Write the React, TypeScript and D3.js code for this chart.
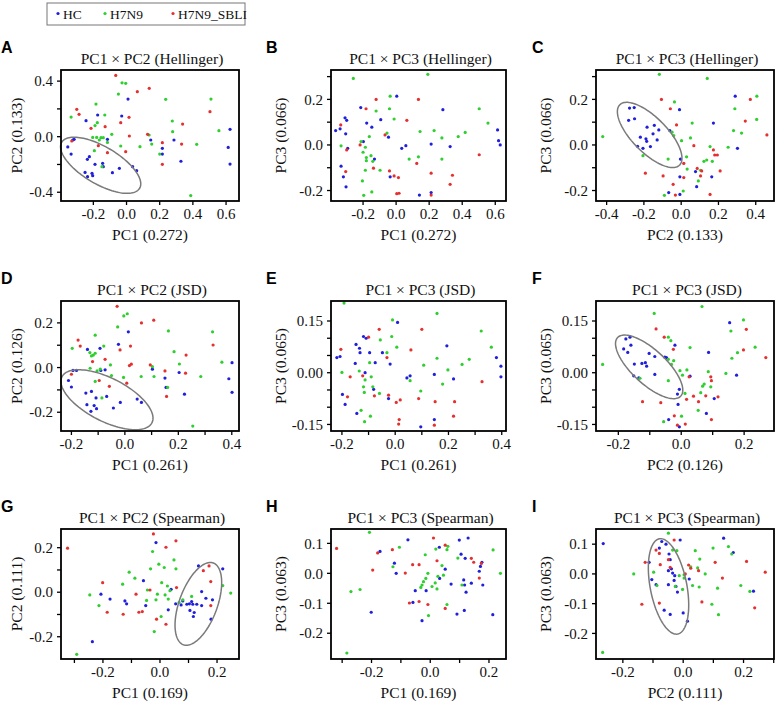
import React from 'react';
import * as d3 from 'd3';

// ---------------- data ----------------
const GROUPS = ['HC', 'H7N9', 'H7N9_SBLI'];
const COLORS = ['#1f1fdc', '#2ecf2e', '#e53030'];

const PANEL_IDS = ['A', 'B', 'C', 'D', 'E', 'F', 'G', 'H', 'I'];
const TITLES = [
  'PC1 × PC2 (Hellinger)', 'PC1 × PC3 (Hellinger)', 'PC1 × PC3 (Hellinger)',
  'PC1 × PC2 (JSD)', 'PC1 × PC3 (JSD)', 'PC1 × PC3 (JSD)',
  'PC1 × PC2 (Spearman)', 'PC1 × PC3 (Spearman)', 'PC1 × PC3 (Spearman)',
];
const X_TITLES = ['PC1 (0.272)', 'PC1 (0.272)', 'PC2 (0.133)', 'PC1 (0.261)', 'PC1 (0.261)', 'PC2 (0.126)', 'PC1 (0.169)', 'PC1 (0.169)', 'PC2 (0.111)'];
const Y_TITLES = ['PC2 (0.133)', 'PC3 (0.066)', 'PC3 (0.066)', 'PC2 (0.126)', 'PC3 (0.065)', 'PC3 (0.065)', 'PC2 (0.111)', 'PC3 (0.063)', 'PC3 (0.063)'];

const X_DOMAINS = [
  [-0.395, 0.678], [-0.394, 0.665], [-0.457, 0.498],
  [-0.239, 0.427], [-0.241, 0.416], [-0.271, 0.295],
  [-0.347, 0.277], [-0.338, 0.258], [-0.289, 0.301],
];
const Y_DOMAINS = [
  [-0.463, 0.48], [-0.246, 0.329], [-0.246, 0.329],
  [-0.284, 0.298], [-0.169, 0.208], [-0.169, 0.208],
  [-0.3, 0.284], [-0.286, 0.148], [-0.286, 0.151],
];

const X_TICKS = [
  [-0.2, 0, 0.2, 0.4, 0.6], [-0.2, 0, 0.2, 0.4, 0.6], [-0.4, -0.2, 0, 0.2, 0.4],
  [-0.2, -0.1, 0, 0.1, 0.2, 0.3, 0.4], [-0.2, -0.1, 0, 0.1, 0.2, 0.3, 0.4], [-0.2, -0.1, 0, 0.1, 0.2],
  [-0.3, -0.2, -0.1, 0, 0.1, 0.2], [-0.3, -0.2, -0.1, 0, 0.1, 0.2], [-0.2, -0.1, 0, 0.1, 0.2, 0.3],
];
const X_TICK_LABELS = [
  [-0.2, 0, 0.2, 0.4, 0.6], [-0.2, 0, 0.2, 0.4, 0.6], [-0.4, -0.2, 0, 0.2, 0.4],
  [-0.2, 0, 0.2, 0.4], [-0.2, 0, 0.2, 0.4], [-0.2, 0, 0.2],
  [-0.2, 0, 0.2], [-0.2, 0, 0.2], [-0.2, 0, 0.2],
];
const Y_TICKS = [
  [-0.4, -0.2, 0, 0.2, 0.4], [-0.2, -0.1, 0, 0.1, 0.2, 0.3], [-0.2, -0.1, 0, 0.1, 0.2, 0.3],
  [-0.2, -0.1, 0, 0.1, 0.2], [-0.15, -0.1, -0.05, 0, 0.05, 0.1, 0.15], [-0.15, -0.1, -0.05, 0, 0.05, 0.1, 0.15],
  [-0.2, -0.1, 0, 0.1, 0.2], [-0.2, -0.1, 0, 0.1], [-0.2, -0.1, 0, 0.1],
];
const Y_TICK_LABELS = [
  [-0.4, 0, 0.4], [-0.2, 0, 0.2], [-0.2, 0, 0.2],
  [-0.2, 0, 0.2], [-0.15, 0, 0.15], [-0.15, 0, 0.15],
  [-0.2, 0, 0.2], [-0.2, -0.1, 0, 0.1], [-0.2, -0.1, 0, 0.1],
];
const Y_DECIMALS = [1, 1, 1, 1, 2, 2, 1, 1, 1];

// ---- Panel A: Hellinger PC1 x PC2
const A_HC = [[-0.354,-0.074],[-0.334,-0.125],[-0.324,-0.024],[-0.316,-0.019],[-0.244,0.115],[-0.236,-0.163],[-0.224,-0.144],[-0.25,-0.257],[-0.235,-0.288],[-0.208,-0.264],[-0.204,-0.281],[-0.19,-0.199],[-0.174,0.156],[-0.144,-0.192],[-0.14,-0.216],[-0.085,-0.259],[-0.043,-0.228],[-0.029,0.149],[0.009,0.271],[0.037,-0.216],[0.061,-0.245],[0.146,-0.024],[0.216,-0.084],[0.216,-0.125],[0.286,-0.024],[0.328,-0.177],[0.613,-0.077],[0.624,0.053],[0.624,-0.197],[-0.115,-0.019]];
const A_H7N9 = [[-0.334,0.141],[-0.184,0.235],[-0.176,0.101],[-0.19,0.08],[-0.204,-0.005],[-0.18,-0.005],[-0.164,-0.024],[-0.154,-0.007],[-0.14,-0.007],[-0.115,-0.041],[-0.131,0.156],[-0.194,-0.101],[-0.148,-0.216],[-0.089,0.017],[-0.049,0.307],[-0.027,0.388],[-0.005,0.384],[-0.035,-0.067],[0.081,-0.072],[0.136,0.012],[0.152,-0.053],[0.2,-0.125],[0.236,0.269],[0.276,0.113],[0.278,0.036],[0.423,-0.055],[0.387,-0.424],[0.509,0.271],[0.557,0.043]];
const A_SBLI = [[-0.3,0.197],[-0.286,0.161],[-0.33,-0.031],[-0.214,0.06],[-0.17,-0.065],[-0.129,0.072],[-0.115,-0.115],[-0.065,0.441],[-0.035,0.101],[-0.005,-0.108],[0.015,0.139],[0.017,0.005],[0.065,0.324],[0.137,0.348],[0.127,0.017],[0.216,-0.043],[0.216,-0.199],[0.338,0.091],[0.332,-0.053],[0.503,0.18]];

// ---- Panel B: Hellinger PC1 x PC3
const B_HC = [[-0.366,0.063],[-0.339,0.071],[-0.333,-0.093],[-0.319,-0.14],[-0.309,0.119],[-0.299,0.108],[-0.305,0.049],[-0.293,-0.015],[-0.303,-0.184],[-0.214,0.164],[-0.198,0.015],[-0.178,0.096],[-0.147,0.078],[-0.131,-0.062],[-0.093,0.111],[-0.046,0.034],[-0.036,-0.14],[0.004,0.214],[0.034,-0.015],[0.059,-0.003],[0.141,-0.22],[0.212,0.004],[0.212,-0.209],[0.283,0.155],[0.327,-0.007],[0.614,0.066],[0.62,0.019],[0.63,0.0]];
const B_H7N9 = [[-0.259,0.292],[-0.333,-0.004],[-0.212,0.015],[-0.2,-0.032],[-0.186,-0.01],[-0.18,-0.055],[-0.18,-0.069],[-0.186,-0.111],[-0.204,-0.158],[-0.196,-0.221],[-0.162,0.037],[-0.152,-0.047],[-0.141,-0.072],[-0.121,0.149],[-0.147,-0.206],[-0.097,-0.111],[-0.055,0.052],[-0.04,0.159],[-0.036,0.214],[-0.012,0.114],[0.079,-0.062],[0.135,-0.052],[0.145,0.059],[0.192,0.31],[0.23,0.063],[0.277,0.031],[0.277,-0.062],[0.376,0.037],[0.418,0.055],[0.503,0.159],[0.556,0.096]];
const B_SBLI = [[-0.335,0.088],[-0.299,-0.022],[-0.305,-0.117],[-0.218,0.0],[-0.182,0.159],[-0.121,0.2],[-0.137,-0.102],[-0.067,0.044],[-0.04,-0.114],[-0.012,-0.136],[0.014,-0.143],[0.004,-0.214],[0.018,-0.212],[0.065,0.108],[0.125,-0.081],[0.135,0.2],[0.212,-0.124],[0.212,-0.22],[0.341,-0.133],[0.327,-0.173],[0.503,-0.043]];

// ---- Panel C: Hellinger PC2 x PC3
const C_HC = [[-0.277,0.162],[-0.252,0.164],[-0.282,0.108],[-0.25,0.115],[-0.183,0.078],[-0.144,0.086],[-0.219,0.034],[-0.189,0.027],[-0.185,0.016],[-0.234,-0.006],[-0.205,-0.015],[-0.165,-0.007],[-0.151,0.049],[-0.12,0.066],[-0.129,0.022],[-0.061,0.063],[-0.009,0.155],[-0.004,-0.062],[-0.007,-0.14],[-0.067,-0.209],[-0.007,-0.217],[0.173,0.096],[0.077,-0.117],[0.083,-0.183],[0.164,-0.14],[0.29,0.214],[0.302,-0.015]];
const C_H7N9 = [[-0.421,0.037],[-0.117,0.31],[0.14,0.292],[-0.205,-0.047],[-0.07,-0.062],[-0.036,0.189],[-0.049,0.056],[-0.04,0.041],[0.002,0.019],[0.029,-0.052],[0.05,0.031],[0.059,0.096],[0.032,-0.106],[0.011,-0.202],[-0.09,-0.221],[0.122,-0.072],[0.137,-0.066],[0.155,-0.007],[0.167,-0.072],[0.104,-0.111],[0.092,-0.158],[0.252,-0.01],[0.281,0.063],[0.288,0.159],[0.324,0.052],[0.405,0.112],[0.406,0.214]];
const C_SBLI = [[-0.106,0.2],[-0.058,0.159],[-0.025,0.088],[-0.192,-0.124],[-0.097,-0.136],[-0.043,-0.173],[-0.031,-0.22],[0.014,-0.081],[0.014,-0.143],[0.068,-0.003],[0.086,-0.103],[0.11,-0.114],[0.104,-0.136],[0.155,-0.217],[0.173,-0.022],[0.18,-0.044],[0.194,-0.044],[0.209,-0.114],[0.344,0.105],[0.371,0.2],[0.46,0.044]];

// ---- Panel D: JSD PC1 x PC2
const D_HC = [[-0.211,-0.058],[-0.2,-0.087],[-0.194,-0.013],[-0.181,-0.013],[-0.146,-0.114],[-0.14,0.081],[-0.142,-0.166],[-0.127,-0.196],[-0.125,-0.107],[-0.115,-0.17],[-0.106,-0.184],[-0.108,-0.136],[-0.093,0.086],[-0.074,-0.01],[-0.068,-0.129],[-0.043,-0.181],[-0.024,0.104],[-0.017,-0.156],[0.013,0.16],[0.046,-0.141],[0.062,-0.156],[0.103,-0.007],[0.15,-0.047],[0.154,-0.089],[0.203,-0.022],[0.223,-0.119],[0.389,-0.05],[0.401,0.022],[0.401,-0.111],[-0.09,-0.013]];
const D_H7N9 = [[-0.197,0.086],[-0.111,0.145],[-0.131,0.067],[-0.125,0.052],[-0.118,0.056],[-0.111,0.064],[-0.13,-0.003],[-0.104,-0.015],[-0.092,-0.007],[-0.111,-0.062],[-0.086,-0.136],[-0.079,0.096],[-0.054,0.012],[-0.05,-0.036],[-0.027,0.182],[-0.004,0.231],[0.009,0.241],[-0.005,-0.044],[0.061,-0.04],[0.103,0.004],[0.109,-0.04],[0.163,0.164],[0.16,-0.089],[0.184,0.071],[0.204,0.016],[0.284,-0.04],[0.328,0.16],[0.363,0.024],[0.254,-0.262]];
const D_SBLI = [[-0.175,0.123],[-0.167,0.096],[-0.2,-0.03],[-0.121,0.027],[-0.096,-0.058],[-0.074,0.037],[-0.058,-0.084],[-0.029,0.274],[-0.018,0.079],[0.007,-0.07],[0.017,0.009],[0.024,0.015],[0.021,0.096],[0.062,0.2],[0.108,0.212],[0.095,0.012],[0.15,-0.015],[0.156,-0.129],[0.229,0.056],[0.227,-0.025],[0.33,0.101]];

// ---- Panel E: JSD PC1 x PC3
const E_HC = [[-0.219,0.044],[-0.207,0.047],[-0.198,-0.063],[-0.188,-0.092],[-0.15,0.027],[-0.144,-0.118],[-0.147,0.082],[-0.134,0.071],[-0.132,0.058],[-0.119,0.105],[-0.109,0.1],[-0.113,0.0],[-0.096,0.058],[-0.081,-0.048],[-0.075,0.029],[-0.048,0.058],[-0.025,-0.075],[-0.019,0.025],[0.009,0.146],[0.044,-0.015],[0.056,-0.009],[0.096,-0.157],[0.147,-0.005],[0.147,-0.136],[0.194,0.078],[0.219,-0.018],[0.38,0.044],[0.397,0.019],[0.397,-0.012]];
const E_H7N9 = [[-0.192,0.202],[-0.2,0.001],[-0.135,0.005],[-0.128,-0.109],[-0.119,-0.041],[-0.116,-0.057],[-0.113,-0.021],[-0.115,-0.142],[-0.096,0.029],[-0.09,-0.012],[-0.093,-0.126],[-0.084,-0.041],[-0.059,-0.06],[-0.056,0.095],[-0.031,0.058],[-0.013,0.105],[-0.01,0.153],[0.006,0.074],[0.056,-0.023],[0.096,-0.053],[0.107,0.022],[0.157,0.172],[0.157,0.042],[0.178,-0.033],[0.198,0.008],[0.251,0.024],[0.278,0.039],[0.323,0.121],[0.361,0.074]];
const E_SBLI = [[-0.204,0.068],[-0.169,-0.012],[-0.179,-0.07],[-0.122,-0.009],[-0.1,0.103],[-0.078,-0.067],[-0.06,0.126],[-0.031,0.044],[-0.025,-0.065],[0.004,-0.086],[0.019,-0.079],[0.015,-0.136],[0.013,-0.149],[0.059,0.066],[0.088,-0.075],[0.1,0.126],[0.15,-0.084],[0.147,-0.152],[0.223,-0.084],[0.219,-0.126],[0.326,-0.026]];

// ---- Panel F: JSD PC2 x PC3
const F_HC = [[-0.176,0.098],[-0.163,0.103],[-0.183,0.069],[-0.17,0.059],[-0.16,0.08],[-0.149,0.025],[-0.151,-0.009],[-0.135,-0.015],[-0.125,0.027],[-0.114,0.029],[-0.11,0.019],[-0.102,0.056],[-0.084,-0.005],[-0.084,0.047],[-0.052,0.045],[-0.047,0.044],[-0.02,0.08],[-0.006,-0.048],[-0.012,-0.062],[-0.01,-0.092],[-0.006,-0.157],[-0.04,-0.136],[0.028,-0.01],[0.087,0.059],[0.08,-0.118],[0.105,-0.075],[0.154,0.145],[0.176,-0.007]];
const F_H7N9 = [[-0.25,0.024],[-0.086,0.172],[0.066,0.192],[-0.131,-0.016],[-0.041,0.103],[-0.033,0.093],[-0.041,0.039],[-0.031,0.024],[-0.024,0.035],[-0.041,-0.023],[-0.004,0.006],[0.004,-0.007],[0.018,0.008],[0.012,-0.06],[0.028,0.073],[0.001,-0.126],[-0.056,-0.142],[0.054,-0.109],[0.062,-0.058],[0.068,-0.039],[0.073,-0.033],[0.086,0.003],[0.094,-0.041],[0.142,-0.002],[0.158,0.121],[0.161,0.042],[0.179,0.058],[0.198,0.153],[0.235,0.074]];
const F_SBLI = [[-0.08,0.127],[-0.054,0.103],[-0.025,0.068],[-0.123,-0.084],[-0.065,-0.087],[-0.022,-0.125],[-0.012,-0.152],[0.013,-0.149],[0.017,-0.077],[0.025,-0.012],[0.039,-0.068],[0.055,-0.084],[0.078,-0.067],[0.094,-0.012],[0.096,-0.023],[0.096,-0.136],[0.117,-0.07],[0.207,0.126],[0.198,0.066],[0.269,0.044]];

// ---- Panel G: Spearman PC1 x PC2
const G_HC = [[-0.237,-0.222],[-0.207,-0.009],[-0.175,-0.031],[-0.123,-0.039],[-0.117,-0.052],[-0.058,0.052],[-0.05,-0.06],[-0.014,0.223],[0.029,-0.079],[0.039,0.013],[0.055,-0.052],[0.074,-0.057],[0.08,-0.039],[0.094,-0.054],[0.103,-0.052],[0.105,-0.082],[0.115,-0.054],[0.117,-0.109],[0.12,-0.091],[0.111,-0.042],[0.129,-0.054],[0.135,0.118],[0.146,0.003],[0.146,-0.06],[0.161,-0.027],[0.179,-0.121],[0.184,-0.034],[0.22,0.105]];
const G_H7N9 = [[-0.292,-0.279],[-0.246,-0.012],[-0.214,-0.06],[-0.131,0.036],[-0.108,0.09],[-0.088,0.063],[-0.044,0.01],[-0.047,-0.037],[-0.033,0.105],[-0.026,0.183],[-0.02,-0.177],[-0.014,-0.034],[-0.009,-0.009],[-0.004,0.126],[0.006,0.043],[0.004,-0.109],[0.015,0.111],[0.018,-0.012],[0.026,0.028],[0.029,-0.031],[0.035,0.007],[0.049,0.145],[0.056,0.105],[0.067,-0.046],[0.08,-0.034],[0.111,-0.019],[0.22,0.03],[0.248,-0.004]];
const G_SBLI = [[-0.324,0.198],[-0.201,0.043],[-0.185,-0.09],[-0.129,-0.099],[-0.084,-0.009],[-0.074,-0.09],[-0.062,-0.087],[-0.035,0.01],[-0.023,0.262],[-0.012,-0.121],[0.021,0.202],[0.021,-0.144],[0.056,0.231],[0.058,0.021],[0.152,0.097],[0.172,0.118],[0.178,0.048],[0.178,-0.06]];

// ---- Panel H: Spearman PC1 x PC3
const H_HC = [[-0.201,-0.13],[-0.171,0.073],[-0.122,0.034],[-0.116,0.0],[-0.076,0.112],[-0.059,-0.097],[-0.051,-0.058],[-0.028,-0.158],[-0.014,-0.058],[0.032,-0.017],[0.031,0.087],[0.051,0.014],[0.071,-0.036],[0.099,0.111],[0.105,0.064],[0.114,-0.022],[0.117,-0.039],[0.122,-0.063],[0.129,0.118],[0.119,0.05],[0.14,-0.033],[0.091,-0.136],[0.116,-0.124],[0.167,0.007],[0.171,0.023],[0.176,0.037],[0.179,-0.039],[0.213,-0.138]];
const H_H7N9 = [[-0.284,-0.266],[-0.27,-0.061],[-0.239,-0.054],[-0.207,0.137],[-0.127,0.022],[-0.105,0.087],[-0.032,-0.047],[-0.028,-0.039],[-0.023,-0.028],[-0.017,0.062],[-0.015,-0.017],[-0.008,0.0],[-0.006,-0.141],[0.006,-0.044],[0.017,-0.032],[0.023,-0.052],[0.026,-0.01],[0.019,0.081],[0.04,0.026],[0.045,-0.006],[0.057,0.079],[0.057,-0.104],[0.06,0.09],[0.094,0.051],[0.108,-0.039],[0.214,0.078],[0.239,0.0]];
const H_SBLI = [[-0.319,0.083],[-0.179,0.068],[-0.196,0.011],[-0.129,0.079],[-0.085,0.001],[-0.071,-0.099],[-0.06,0.029],[-0.038,0.029],[-0.038,-0.094],[-0.008,-0.104],[0.011,0.118],[0.023,0.042],[0.051,0.094],[0.051,-0.117],[0.14,0.05],[0.148,0.037],[0.167,-0.016],[0.174,0.033]];

// ---- Panel I: Spearman PC2 x PC3
const I_HC = [[-0.265,0.102],[-0.113,0.039],[-0.104,-0.019],[-0.09,-0.036],[-0.079,0.087],[-0.071,0.109],[-0.057,0.1],[-0.049,0.011],[-0.047,0.067],[-0.043,0.048],[-0.039,0.017],[-0.035,0.003],[-0.049,-0.036],[-0.03,-0.022],[-0.024,-0.042],[-0.019,-0.061],[-0.01,0.114],[-0.028,-0.006],[-0.063,-0.122],[-0.043,-0.136],[0.0,-0.131],[0.014,-0.159],[0.02,-0.017],[0.134,0.12],[0.166,0.072],[0.233,-0.058]];
const I_H7N9 = [[-0.267,-0.264],[-0.164,0.0],[-0.098,0.006],[-0.087,-0.039],[-0.049,0.137],[-0.035,0.08],[-0.021,0.078],[-0.026,-0.042],[-0.002,-0.052],[0.003,-0.014],[0.003,-0.003],[-0.013,-0.006],[0.025,0.024],[0.031,-0.039],[0.04,0.078],[0.048,0.02],[0.055,0.05],[0.053,-0.044],[0.073,0.0],[0.095,-0.102],[0.099,0.087],[0.114,-0.048],[0.117,-0.137],[0.15,0.092],[0.161,0.067],[0.191,-0.039],[0.221,-0.059]];
const I_SBLI = [[-0.137,-0.102],[-0.126,0.039],[-0.09,0.08],[-0.079,0.069],[-0.076,0.031],[-0.079,-0.098],[-0.049,0.048],[-0.03,0.114],[-0.043,0.022],[0.007,0.0],[0.018,0.03],[0.025,0.019],[0.051,0.011],[0.062,-0.094],[0.106,0.039],[0.13,-0.014],[0.21,0.042],[0.237,-0.114],[0.272,0.006]];

// confidence ellipses (HC): [cx, cy, ux, uy, vx, vy] in data units
const ELLIPSE_A = [-0.156, -0.206, 0.235, -0.1655, -0.057, -0.1156];
const ELLIPSE_C = [-0.169, 0.044, 0.16, -0.1327, 0.0665, 0.0537];
const ELLIPSE_D = [-0.067, -0.144, 0.168, -0.1037, -0.038, -0.0853];
const ELLIPSE_F = [-0.102, 0.017, 0.1005, -0.0848, 0.0366, 0.0363];
const ELLIPSE_G = [0.1345, -0.0524, 0.0526, 0.1835, 0.0626, -0.0295];
const ELLIPSE_I = [-0.0486, -0.042, 0.0304, -0.16, 0.0596, 0.0115];

const PANEL_SERIES = [
  [A_HC, A_H7N9, A_SBLI], [B_HC, B_H7N9, B_SBLI], [C_HC, C_H7N9, C_SBLI],
  [D_HC, D_H7N9, D_SBLI], [E_HC, E_H7N9, E_SBLI], [F_HC, F_H7N9, F_SBLI],
  [G_HC, G_H7N9, G_SBLI], [H_HC, H_H7N9, H_SBLI], [I_HC, I_H7N9, I_SBLI],
];
const PANEL_ELLIPSES = [ELLIPSE_A, null, ELLIPSE_C, ELLIPSE_D, null, ELLIPSE_F, ELLIPSE_G, null, ELLIPSE_I];

// ---------------- layout ----------------
const W = 776;
const H = 703;
const COL_X = [61, 331, 596];
const COL_W = [178, 175, 178];
const ROW_Y = [70, 301, 529];
const ROW_H = [131, 130, 130];
const LETTER_X = [1, 266, 532];
const SERIF = "'Liberation Serif', 'DejaVu Serif', 'Times New Roman', serif";
const SANS = "'Liberation Sans', Arial, sans-serif";

const serifStyle = (size: number) => ({ fontFamily: SERIF, fontSize: `${size}px` });

const fmt = (v: number, d: number) => (Math.abs(v) < 1e-9 ? (0).toFixed(d) : v.toFixed(d));

function Panel({ i }: { i: number }) {
  const col = i % 3;
  const row = Math.floor(i / 3);
  const left = COL_X[col];
  const w = COL_W[col];
  const top = ROW_Y[row];
  const h = ROW_H[row];
  const x = d3.scaleLinear().domain(X_DOMAINS[i]).range([left, left + w]);
  const y = d3.scaleLinear().domain(Y_DOMAINS[i]).range([top + h, top]);
  const ell = PANEL_ELLIPSES[i];
  let ellPath: string | null = null;
  if (ell) {
    const ts = d3.range(0, 120).map((k) => (k / 120) * Math.PI * 2);
    const line = d3
      .line<number>()
      .x((t) => x(ell[0] + ell[2] * Math.cos(t) + ell[4] * Math.sin(t)))
      .y((t) => y(ell[1] + ell[3] * Math.cos(t) + ell[5] * Math.sin(t)))
      .curve(d3.curveLinearClosed);
    ellPath = line(ts);
  }
  const yTitleX = left - (col === 0 ? 44 : 50);
  return (
    <g>
      <text x={LETTER_X[col]} y={top - 17} style={{ fontFamily: SANS, fontSize: '16px', fontWeight: 'bold' }} fill="#000">
        {PANEL_IDS[i]}
      </text>
      <text x={left + w / 2 + 2} y={top - 6} textAnchor="middle" style={serifStyle(15.5)} fill="#111">
        {TITLES[i]}
      </text>
      {PANEL_SERIES[i].map((series, gi) =>
        series.map((p, k) => (
          <circle key={`${gi}-${k}`} cx={x(p[0])} cy={y(p[1])} r={1.6} fill={COLORS[gi]} />
        ))
      )}
      {ellPath && <path d={ellPath} fill="none" stroke="#7a7a7a" strokeWidth={1.5} />}
      <rect x={left} y={top} width={w} height={h} fill="none" stroke="#000" strokeWidth={1.8} />
      {X_TICKS[i].map((t) => (
        <line key={`xt${t}`} x1={x(t)} x2={x(t)} y1={top + h} y2={top + h + 4} stroke="#000" strokeWidth={1.3} />
      ))}
      {X_TICK_LABELS[i].map((t) => (
        <text key={`xl${t}`} x={x(t)} y={top + h + 18} textAnchor="middle" style={serifStyle(15)} fill="#111">
          {fmt(t, 1)}
        </text>
      ))}
      {Y_TICKS[i].map((t) => (
        <line key={`yt${t}`} x1={left - 4} x2={left} y1={y(t)} y2={y(t)} stroke="#000" strokeWidth={1.3} />
      ))}
      {Y_TICK_LABELS[i].map((t) => (
        <text key={`yl${t}`} x={left - 8} y={y(t)} dy="0.35em" textAnchor="end" style={serifStyle(15)} fill="#111">
          {fmt(t, Y_DECIMALS[i])}
        </text>
      ))}
      <text x={left + w / 2} y={top + h + 39} textAnchor="middle" style={serifStyle(15.5)} fill="#111">
        {X_TITLES[i]}
      </text>
      <text
        transform={`translate(${yTitleX},${top + h / 2}) rotate(-90)`}
        dy="0.35em"
        textAnchor="middle"
        style={serifStyle(15.5)}
        fill="#111"
      >
        {Y_TITLES[i]}
      </text>
    </g>
  );
}

function Legend() {
  const itemX = [58, 105, 173];
  return (
    <g>
      <rect x={47} y={3} width={198} height={22} fill="#fff" stroke="#777" strokeWidth={1} />
      {GROUPS.map((g, gi) => (
        <g key={g}>
          <circle cx={itemX[gi]} cy={13.5} r={1.6} fill={COLORS[gi]} />
          <text x={itemX[gi] + 5} y={19} style={serifStyle(13.5)} fill="#111">
            {g}
          </text>
        </g>
      ))}
    </g>
  );
}

export default function App() {
  return (
    <svg
      width={W}
      height={H}
      viewBox={`0 0 ${W} ${H}`}
      style={{ position: 'absolute', left: 0, top: 0, background: '#fff' }}
    >
      <rect x={0} y={0} width={W} height={H} fill="#fff" />
      <Legend />
      {PANEL_IDS.map((id, i) => (
        <Panel key={id} i={i} />
      ))}
    </svg>
  );
}
